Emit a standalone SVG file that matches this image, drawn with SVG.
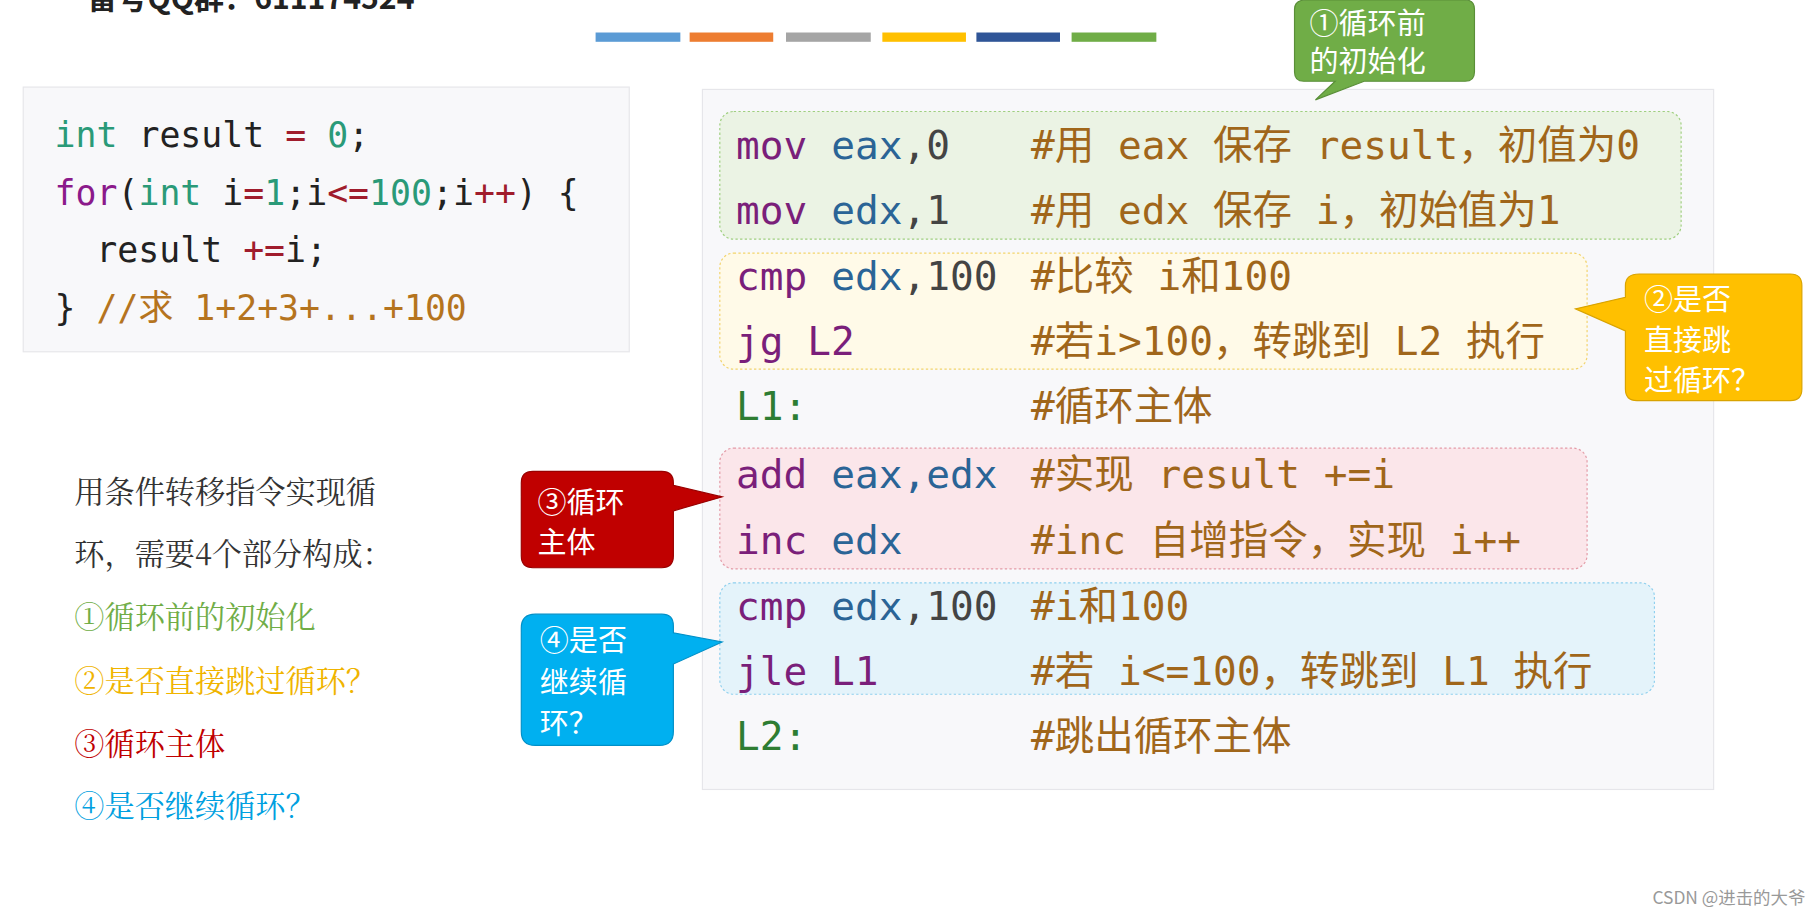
<svg xmlns="http://www.w3.org/2000/svg" width="1817" height="914" viewBox="0 0 1817 914">
<style>
.c{font-family:"DejaVu Sans Mono","Noto Sans CJK SC",monospace;font-size:30px}
.a{font-family:"DejaVu Sans Mono","Noto Sans CJK SC",monospace;font-size:34px}
.ins{fill:#7a1f7a}.reg{fill:#2a6496}.num{fill:#444}.cm{fill:#a0661a}.lb{fill:#2e7d32}
.kw{fill:#2a9a78}.op{fill:#a01c2c}.br{fill:#222}
.t{font-family:"Noto Serif CJK SC","Noto Sans CJK SC",serif;font-size:26px}
.w{font-family:"Noto Sans CJK SC",sans-serif;font-size:25px;fill:#fff}
</style>
<rect width="1817" height="914" fill="#fff"/>
<g transform="scale(1.161)">
<text x="75" y="8" font-family="Noto Sans CJK SC,sans-serif" font-size="26" font-weight="bold" fill="#222">留号QQ群：611174524</text>
<g id="bars">
<rect x="513" y="28" width="73" height="8" fill="#5b9bd5"/>
<rect x="594" y="28" width="72" height="8" fill="#ed7d31"/>
<rect x="677" y="28" width="73" height="8" fill="#a5a5a5"/>
<rect x="760" y="28" width="72" height="8" fill="#ffc000"/>
<rect x="841" y="28" width="72" height="8" fill="#2f5597"/>
<rect x="923" y="28" width="73" height="8" fill="#70ad47"/>
</g>
<g id="ccode">
<rect x="20" y="75" width="522" height="228" fill="#f8f8fa" stroke="#e6e6ea"/>
<text class="c" x="47" y="127"><tspan class="kw">int</tspan><tspan class="br"> result </tspan><tspan class="op">=</tspan><tspan class="kw"> 0</tspan><tspan class="br">;</tspan></text>
<text class="c" x="47" y="177"><tspan fill="#8b1a8b">for</tspan><tspan class="br">(</tspan><tspan class="kw">int</tspan><tspan class="br"> i</tspan><tspan class="op">=</tspan><tspan class="kw">1</tspan><tspan class="br">;i</tspan><tspan class="op">&lt;=</tspan><tspan class="kw">100</tspan><tspan class="br">;i</tspan><tspan class="op">++</tspan><tspan class="br">) {</tspan></text>
<text class="c" x="83" y="226"><tspan class="br">result </tspan><tspan class="op">+=</tspan><tspan class="br">i;</tspan></text>
<text class="c" x="47" y="276"><tspan class="br">} </tspan><tspan fill="#b5741e">//求 1+2+3+...+100</tspan></text>
</g>
<g id="asm">
<rect x="605" y="77" width="871" height="603" fill="#f8f8fa" stroke="#e6e6ea"/>
<rect id="g1" x="620" y="96" width="828" height="110" rx="12" fill="#ebf3e4" stroke="#9fcf7f" stroke-dasharray="2 2"/>
<rect id="g2" x="620" y="218" width="747" height="100" rx="12" fill="#fffae8" stroke="#f2d36b" stroke-dasharray="2 2"/>
<rect id="g3" x="620" y="386" width="747" height="104" rx="12" fill="#fbe6ea" stroke="#e39aa6" stroke-dasharray="2 2"/>
<rect id="g4" x="620" y="502" width="805" height="96" rx="12" fill="#e4f3fa" stroke="#8fd0ee" stroke-dasharray="2 2"/>
<text class="a" x="634" y="137"><tspan class="ins">mov</tspan> <tspan class="reg">eax</tspan><tspan class="num">,0</tspan></text>
<text class="a cm" x="888" y="137">#用 eax 保存 result，初值为0</text>
<text class="a" x="634" y="193"><tspan class="ins">mov</tspan> <tspan class="reg">edx</tspan><tspan class="num">,1</tspan></text>
<text class="a cm" x="888" y="193">#用 edx 保存 i，初始值为1</text>
<text class="a" x="634" y="250"><tspan class="ins">cmp</tspan> <tspan class="reg">edx</tspan><tspan class="num">,100</tspan></text>
<text class="a cm" x="888" y="250">#比较 i和100</text>
<text class="a" x="634" y="306"><tspan class="ins">jg L2</tspan></text>
<text class="a cm" x="888" y="306">#若i&gt;100，转跳到 L2 执行</text>
<text class="a lb" x="634" y="362">L1:</text>
<text class="a cm" x="888" y="362">#循环主体</text>
<text class="a" x="634" y="420"><tspan class="ins">add</tspan> <tspan class="reg">eax,edx</tspan></text>
<text class="a cm" x="888" y="420">#实现 result +=i</text>
<text class="a" x="634" y="477"><tspan class="ins">inc</tspan> <tspan class="reg">edx</tspan></text>
<text class="a cm" x="888" y="477">#inc 自增指令，实现 i++</text>
<text class="a" x="634" y="534"><tspan class="ins">cmp</tspan> <tspan class="reg">edx</tspan><tspan class="num">,100</tspan></text>
<text class="a cm" x="888" y="534">#i和100</text>
<text class="a" x="634" y="590"><tspan class="ins">jle L1</tspan></text>
<text class="a cm" x="888" y="590">#若 i&lt;=100，转跳到 L1 执行</text>
<text class="a lb" x="634" y="646">L2:</text>
<text class="a cm" x="888" y="646">#跳出循环主体</text>
</g>
<g id="callout1">
<path d="M1125,0 H1262 Q1270,0 1270,8 V62 Q1270,70 1262,70 H1175 L1133,86 L1150,70 H1123 Q1115,70 1115,62 V8 Q1115,0 1125,0 Z" fill="#70ad47" stroke="#5a8f38"/>
<text class="w" x="1128" y="29">①循环前</text>
<text class="w" x="1128" y="62">的初始化</text>
</g>
<g id="callout2">
<path d="M1412,236 H1542 Q1552,236 1552,246 V335 Q1552,345 1542,345 H1410 Q1400,345 1400,335 V285 L1357,266 L1400,256 V246 Q1400,236 1412,236 Z" fill="#ffc000" stroke="#d9a300"/>
<text class="w" x="1416" y="267">②是否</text>
<text class="w" x="1416" y="302">直接跳</text>
<text class="w" x="1416" y="337">过循环？</text>
</g>
<g id="callout3">
<path d="M459,406 H570 Q580,406 580,416 V418 L622,428 L580,440 V479 Q580,489 570,489 H459 Q449,489 449,479 V416 Q449,406 459,406 Z" fill="#c00000" stroke="#900"/>
<text class="w" x="463" y="442">③循环</text>
<text class="w" x="463" y="476">主体</text>
</g>
<g id="callout4">
<path d="M461,529 H570 Q580,529 580,539 V545 L622,553 L580,572 V630 Q580,642 568,642 H461 Q449,642 449,630 V541 Q449,529 461,529 Z" fill="#00b0f0" stroke="#0090c8"/>
<text class="w" x="465" y="561">④是否</text>
<text class="w" x="465" y="597">继续循</text>
<text class="w" x="465" y="632">环？</text>
</g>
<g id="legend">
<text class="t" x="64" y="433" fill="#333">用条件转移指令实现循</text>
<text class="t" x="64" y="487" fill="#333">环，需要4个部分构成：</text>
<text class="t" x="64" y="541" fill="#70ad47">①循环前的初始化</text>
<text class="t" x="64" y="596" fill="#f0b400">②是否直接跳过循环？</text>
<text class="t" x="64" y="650" fill="#c00000">③循环主体</text>
<text class="t" x="64" y="704" fill="#00a0e0">④是否继续循环？</text>
</g>
<text x="1555" y="779" text-anchor="end" font-family="Noto Sans CJK SC,sans-serif" font-size="15" fill="#999">CSDN @进击的大爷</text>
</g>
</svg>
